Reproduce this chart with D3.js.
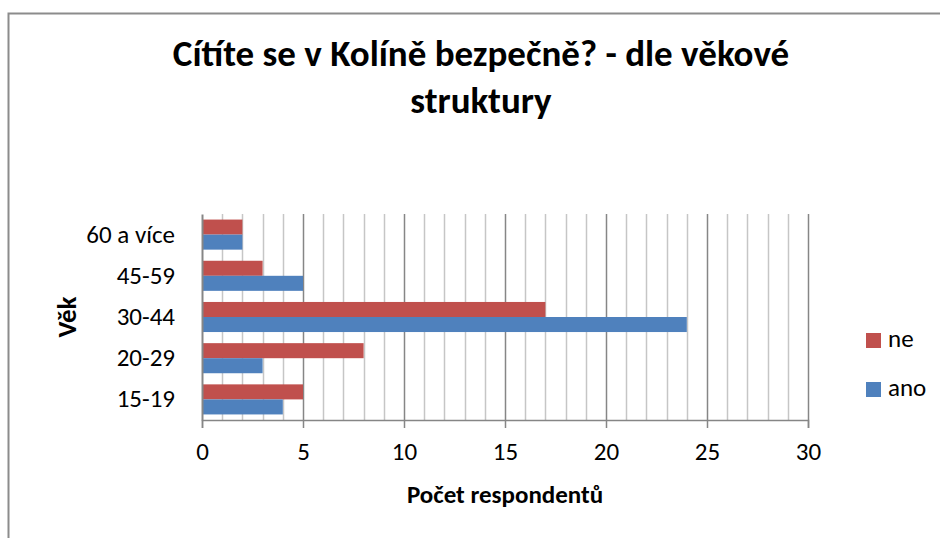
<!DOCTYPE html>
<html>
<head>
<meta charset="utf-8">
<script src="https://cdn.jsdelivr.net/npm/d3@7"></script>
<style>
  body { margin: 0; background: #fff; }
  text { font-family: Carlito, "Open Sans", "Noto Sans", sans-serif; }
</style>
</head>
<body>
<div id="container"></div>
<script>
const categories = ['15-19', '20-29', '30-44', '45-59', '60 a více']
const seriesNames = ['ne', 'ano']
const ne = [5, 8, 17, 3, 2]
const ano = [4, 3, 24, 5, 2]
const xTicks = [0, 5, 10, 15, 20, 25, 30]
const colors = { ne: '#C0504D', ano: '#4F81BD' }

const W = 940
const H = 538
const margin = { top: 214, left: 202, right: 132, bottom: 118 }
const width = W - margin.left - margin.right
const height = H - margin.top - margin.bottom
const font = 'Carlito, "Open Sans", "Noto Sans", sans-serif'

const svg = d3.select('#container')
  .append('svg')
  .attr('width', W)
  .attr('height', H)

// chart frame
svg.append('rect')
  .attr('x', 8.5).attr('y', 13.5)
  .attr('width', W).attr('height', H)
  .attr('fill', 'none')
  .attr('stroke', '#8c8c8c')
  .attr('stroke-width', 2)

svg.append('text')
  .attr('x', 481).attr('y', 66)
  .attr('text-anchor', 'middle')
  .attr('font-size', 37).attr('font-weight', 'bold')
  .text('Cítíte se v Kolíně bezpečně? - dle věkové')
svg.append('text')
  .attr('x', 481).attr('y', 113)
  .attr('text-anchor', 'middle')
  .attr('font-size', 37).attr('font-weight', 'bold')
  .text('struktury')

const g = svg.append('g')
  .attr('transform', `translate(${margin.left},${margin.top})`)

const x = d3.scaleLinear().domain([0, 30]).range([0, width])
const y = d3.scaleBand().domain(categories.slice().reverse()).range([0, height]).paddingInner(0.27).paddingOuter(0.135)
const ySub = d3.scaleBand().domain(seriesNames).range([0, y.bandwidth()])

// minor and major gridlines
g.append('g')
  .selectAll('line')
  .data(d3.range(1, 31))
  .join('line')
  .attr('x1', d => Math.round(x(d)) + 0.5)
  .attr('x2', d => Math.round(x(d)) + 0.5)
  .attr('y1', 0)
  .attr('y2', height)
  .attr('stroke', d => d % 5 === 0 ? '#868686' : '#c6c6c6')
  .attr('stroke-width', 1.5)

const rows = categories.map((c, i) => ({ cat: c, ne: ne[i], ano: ano[i] }))

seriesNames.forEach(s => {
  g.append('g')
    .selectAll('rect')
    .data(rows)
    .join('rect')
    .attr('x', x(0))
    .attr('y', d => y(d.cat) + ySub(s))
    .attr('width', d => x(d[s]) - x(0))
    .attr('height', ySub.bandwidth())
    .attr('fill', colors[s])
})

// x axis
const xAxis = g.append('g')
  .attr('transform', `translate(0,${height})`)
  .call(d3.axisBottom(x).tickValues(xTicks).tickSize(8).tickPadding(14))
xAxis.select('.domain').attr('stroke', '#868686').attr('stroke-width', 1.5)
xAxis.selectAll('.tick line').attr('stroke', '#868686').attr('stroke-width', 1.5)
xAxis.selectAll('text').attr('font-size', 25).attr('fill', '#000')
  .style('font-family', font)

// y axis
const yAxis = g.append('g')
  .call(d3.axisLeft(y).tickSize(0).tickPadding(27))
yAxis.select('.domain').attr('stroke', '#868686').attr('stroke-width', 2)
yAxis.selectAll('text').attr('font-size', 25).attr('fill', '#000')
  .style('font-family', font)

svg.append('text')
  .attr('x', margin.left + width / 2).attr('y', 503)
  .attr('text-anchor', 'middle')
  .attr('font-size', 25).attr('font-weight', 'bold')
  .text('Počet respondentů')

svg.append('text')
  .attr('transform', `translate(76,${margin.top + height / 2}) rotate(-90)`)
  .attr('text-anchor', 'middle')
  .attr('font-size', 27).attr('font-weight', 'bold')
  .text('Věk')

// legend
const legend = svg.append('g')
  .selectAll('g')
  .data(seriesNames)
  .join('g')
  .attr('transform', (d, i) => `translate(866,${333 + i * 49})`)
legend.append('rect')
  .attr('width', 15).attr('height', 15)
  .attr('fill', d => colors[d])
legend.append('text')
  .attr('x', 22).attr('y', 14)
  .attr('font-size', 25)
  .text(d => d)
</script>
</body>
</html>
